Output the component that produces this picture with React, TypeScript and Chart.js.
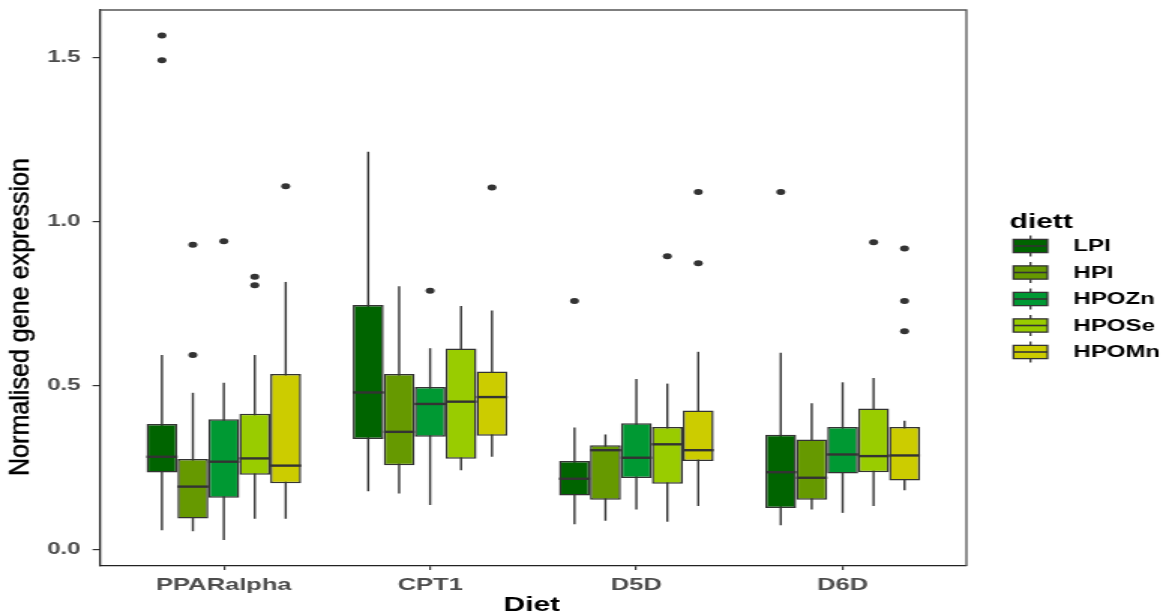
import React, { useEffect, useRef } from 'react';
import { Chart, registerables } from 'chart.js';

Chart.register(...registerables);

// ---------------- data ----------------
const categories = ['PPARalpha', 'CPT1', 'D5D', 'D6D'];
const series = ['LPI', 'HPI', 'HPOZn', 'HPOSe', 'HPOMn'];
const colors = ['#006400', '#669900', '#009933', '#99CC00', '#CCCC00'];

// rows = series (LPI, HPI, HPOZn, HPOSe, HPOMn), columns = categories
const whiskerLow = [
  [0.059, 0.178, 0.077, 0.074],
  [0.056, 0.171, 0.088, 0.122],
  [0.029, 0.136, 0.122, 0.112],
  [0.094, 0.242, 0.085, 0.133],
  [0.094, 0.283, 0.133, 0.181],
];
const q1 = [
  [0.235, 0.337, 0.165, 0.127],
  [0.095, 0.257, 0.152, 0.152],
  [0.158, 0.344, 0.218, 0.232],
  [0.228, 0.277, 0.201, 0.236],
  [0.202, 0.347, 0.27, 0.211],
];
const median = [
  [0.283, 0.479, 0.216, 0.236],
  [0.192, 0.359, 0.303, 0.219],
  [0.268, 0.444, 0.28, 0.29],
  [0.278, 0.451, 0.321, 0.285],
  [0.256, 0.465, 0.303, 0.287],
];
const q3 = [
  [0.383, 0.746, 0.27, 0.35],
  [0.276, 0.535, 0.318, 0.336],
  [0.397, 0.496, 0.385, 0.374],
  [0.414, 0.613, 0.374, 0.43],
  [0.535, 0.543, 0.424, 0.374],
];
const whiskerHigh = [
  [0.593, 1.213, 0.372, 0.6],
  [0.478, 0.803, 0.351, 0.446],
  [0.509, 0.614, 0.52, 0.51],
  [0.593, 0.743, 0.506, 0.523],
  [0.816, 0.729, 0.603, 0.393],
];
const outliers: number[][][] = [
  [[1.567, 1.492], [], [0.758], [1.09]],
  [[0.593, 0.929], [], [], []],
  [[0.94], [0.789], [], []],
  [[0.832, 0.806], [], [0.894], [0.937]],
  [[1.108], [1.104], [1.09, 0.873], [0.918, 0.758, 0.666]],
];
const yTicks = [0, 0.5, 1.0, 1.5];

const yTitle = 'Normalised gene expression';
const xTitle = 'Diet';
const legendTitle = 'diett';

// ---------------- layout ----------------
const W = 1169;
const H = 611;
const SX = 1.5;
const CW = Math.round(W / SX);
const PANEL_LEFT = 100 / SX;
const PANEL_RIGHT = 966 / SX;
const PANEL_TOP = 10;
const PANEL_BOTTOM = 566;
const FONT = '"Liberation Sans", Arial, sans-serif';
const LINE = '#333333';

const boxPlugin = {
  id: 'boxExtras',
  beforeDatasetsDraw(chart: any) {
    const ctx = chart.ctx;
    const y = chart.scales.y;
    ctx.save();
    ctx.strokeStyle = LINE;
    ctx.lineWidth = 1.4;
    series.forEach((_, i) => {
      const meta = chart.getDatasetMeta(i);
      meta.data.forEach((el: any, j: number) => {
        ctx.beginPath();
        ctx.moveTo(el.x, y.getPixelForValue(whiskerLow[i][j]));
        ctx.lineTo(el.x, y.getPixelForValue(whiskerHigh[i][j]));
        ctx.stroke();
      });
    });
    ctx.restore();
  },
  afterDatasetsDraw(chart: any) {
    const ctx = chart.ctx;
    const y = chart.scales.y;
    ctx.save();
    ctx.strokeStyle = LINE;
    ctx.fillStyle = LINE;
    series.forEach((_, i) => {
      const meta = chart.getDatasetMeta(i);
      meta.data.forEach((el: any, j: number) => {
        const half = el.width / 2;
        const ym = y.getPixelForValue(median[i][j]);
        ctx.lineWidth = 2.4;
        ctx.beginPath();
        ctx.moveTo(el.x - half, ym);
        ctx.lineTo(el.x + half, ym);
        ctx.stroke();
        outliers[i][j].forEach((v) => {
          ctx.beginPath();
          ctx.arc(el.x, y.getPixelForValue(v), 3, 0, Math.PI * 2);
          ctx.fill();
        });
      });
    });
    ctx.restore();
  },
  afterDraw(chart: any) {
    const ctx = chart.ctx;
    const a = chart.chartArea;
    ctx.save();
    // top and right panel border
    ctx.strokeStyle = '#555555';
    ctx.lineWidth = 1.3;
    ctx.beginPath();
    ctx.moveTo(a.left, a.top);
    ctx.lineTo(a.right, a.top);
    ctx.lineTo(a.right, a.bottom);
    ctx.stroke();

    // y title
    ctx.save();
    ctx.translate(19, 317);
    ctx.rotate(-Math.PI / 2);
    ctx.font = `18px ${FONT}`;
    const tw = ctx.measureText(yTitle).width;
    ctx.scale(318 / tw, 1);
    ctx.fillStyle = '#000000';
    ctx.strokeStyle = '#000000';
    ctx.lineWidth = 0.35;
    ctx.textAlign = 'center';
    ctx.textBaseline = 'alphabetic';
    ctx.fillText(yTitle, 0, 0);
    ctx.strokeText(yTitle, 0, 0);
    ctx.restore();

    // x title
    ctx.font = `bold 20px ${FONT}`;
    ctx.fillStyle = '#000000';
    ctx.textAlign = 'center';
    ctx.textBaseline = 'alphabetic';
    ctx.fillText(xTitle, (a.left + a.right) / 2 - 1, 611);

    // legend
    ctx.font = `bold 20px ${FONT}`;
    ctx.textAlign = 'left';
    ctx.fillText(legendTitle, 1009 / SX, 228);
    const keyL = 1013 / SX;
    const keyR = 1047 / SX;
    const keyC = (keyL + keyR) / 2;
    const cellH = 26.5;
    series.forEach((name, i) => {
      const cy = 246 + i * cellH;
      const top = cy - cellH / 2;
      ctx.strokeStyle = LINE;
      ctx.lineWidth = 1.3;
      ctx.beginPath();
      ctx.moveTo(keyC, top + cellH * 0.1);
      ctx.lineTo(keyC, top + cellH * 0.25);
      ctx.moveTo(keyC, top + cellH * 0.75);
      ctx.lineTo(keyC, top + cellH * 0.9);
      ctx.stroke();
      ctx.fillStyle = colors[i];
      ctx.fillRect(keyL, top + cellH * 0.25, keyR - keyL, cellH * 0.5);
      ctx.strokeRect(keyL, top + cellH * 0.25, keyR - keyL, cellH * 0.5);
      ctx.lineWidth = 1.6;
      ctx.beginPath();
      ctx.moveTo(keyL, cy);
      ctx.lineTo(keyR, cy);
      ctx.stroke();
      ctx.fillStyle = '#000000';
      ctx.font = `bold 16px ${FONT}`;
      ctx.textBaseline = 'middle';
      ctx.fillText(name, 1073 / SX, cy + 1);
    });
    ctx.restore();
  },
};

export default function App() {
  const ref = useRef<HTMLCanvasElement | null>(null);

  useEffect(() => {
    if (!ref.current) return;
    const datasets = series.map((name, i) => ({
      label: name,
      data: categories.map((_, j) => ({ x: j + 1, y: [q1[i][j], q3[i][j]] })),
      backgroundColor: colors[i],
      borderColor: LINE,
      borderWidth: 1.5,
      borderSkipped: false,
      categoryPercentage: 0.75,
      barPercentage: 1.0,
    }));
    const chart = new Chart(ref.current, {
      type: 'bar',
      data: { datasets } as any,
      plugins: [boxPlugin],
      options: {
        animation: false,
        responsive: false,
        devicePixelRatio: 1,
        layout: { padding: { left: 0, right: CW - PANEL_RIGHT, top: PANEL_TOP, bottom: 0 } },
        plugins: { legend: { display: false }, tooltip: { enabled: false } },
        scales: {
          x: {
            type: 'linear',
            min: 0.4,
            max: 4.6,
            offset: false,
            afterBuildTicks: (s: any) => {
              s.ticks = categories.map((_, i) => ({ value: i + 1 }));
            },
            afterFit: (s: any) => {
              s.height = H - PANEL_BOTTOM;
              s.paddingLeft = 0;
              s.paddingRight = 0;
            },
            ticks: {
              autoSkip: false,
              maxRotation: 0,
              padding: 5,
              color: '#4D4D4D',
              font: { family: FONT, size: 17, weight: 'bold' },
              callback: (v: any) => categories[Math.round(Number(v)) - 1] ?? '',
            },
            grid: { offset: false, drawOnChartArea: false, drawTicks: true, tickLength: 4, color: LINE, lineWidth: 1.2 },
            border: { display: true, color: '#222222', width: 1.3 },
          },
          y: {
            type: 'linear',
            min: -0.05,
            max: 1.645,
            afterBuildTicks: (s: any) => {
              s.ticks = yTicks.map((v) => ({ value: v }));
            },
            afterFit: (s: any) => {
              s.width = PANEL_LEFT;
              s.paddingTop = 0;
              s.paddingBottom = 0;
            },
            ticks: {
              padding: 8,
              color: '#4D4D4D',
              font: { family: FONT, size: 16, weight: 'bold' },
              callback: (v: any) => Number(v).toFixed(1),
            },
            grid: { drawOnChartArea: false, drawTicks: true, tickLength: 5, color: LINE, lineWidth: 1.2 },
            border: { display: true, color: '#222222', width: 1.3 },
          },
        },
      } as any,
    });
    return () => chart.destroy();
  }, []);

  return (
    <div style={{ position: 'absolute', left: 0, top: 0, width: W, height: H, overflow: 'hidden', background: '#ffffff' }}>
      <canvas
        ref={ref}
        width={CW}
        height={H}
        style={{ display: 'block', width: CW, height: H, transform: `scaleX(${W / CW})`, transformOrigin: '0 0' }}
      />
    </div>
  );
}
